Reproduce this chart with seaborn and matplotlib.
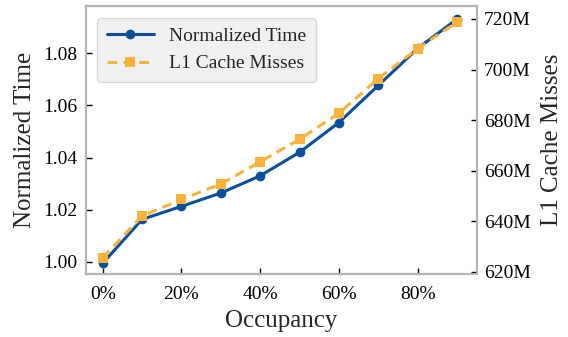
import matplotlib.pyplot as plt
import matplotlib.ticker as mticker
import pandas as pd
import seaborn as sns

OCCUPANCY = [0, 10, 20, 30, 40, 50, 60, 70, 80, 90]
NORM_TIME = [0.9995, 1.0163, 1.0213, 1.0264, 1.0330, 1.0420, 1.0534, 1.0676, 1.0818, 1.0930]
L1_MISSES_M = [625.5, 642.0, 648.6, 654.7, 663.5, 672.4, 682.7, 696.4, 708.3, 718.8]

BLUE = "#0a4f9c"
ORANGE = "#fbb23a"

sns.set_style("ticks")
plt.rcParams.update(
    {
        "font.family": ["Liberation Serif", "DejaVu Serif"],
        "font.size": 14,
        "axes.linewidth": 1.5,
        "axes.edgecolor": "#b5b5b5",
        "xtick.direction": "in",
        "ytick.direction": "in",
        "xtick.major.size": 4,
        "ytick.major.size": 4,
        "xtick.major.width": 1.0,
        "ytick.major.width": 1.0,
        "xtick.color": "black",
        "ytick.color": "black",
    }
)

df = pd.DataFrame({"occ": OCCUPANCY, "time": NORM_TIME, "miss": L1_MISSES_M})

fig = plt.figure(figsize=(5.68, 3.37), dpi=100)
ax = fig.add_axes([0.151, 0.187, 0.689, 0.795])
ax2 = ax.twinx()

sns.lineplot(data=df, x="occ", y="time", ax=ax, color=BLUE, lw=2.2,
             marker="o", markersize=7, markeredgewidth=0, label="Normalized Time",
             legend=False)
sns.lineplot(data=df, x="occ", y="miss", ax=ax2, color=ORANGE, lw=2.2,
             marker="s", markersize=7.5, markeredgewidth=0, dashes=False,
             label="L1 Cache Misses", legend=False)
ax2.lines[0].set_linestyle((0, (3.2, 2.0)))

ax.set_xlim(-4.3, 95.1)
ax.set_ylim(0.9954, 1.098)
ax2.set_ylim(619.1, 725.1)

ax.set_xticks([0, 20, 40, 60, 80])
ax.xaxis.set_major_formatter(mticker.FuncFormatter(lambda v, _: f"{v:.0f}%"))
ax.set_yticks([1.00, 1.02, 1.04, 1.06, 1.08])
ax.yaxis.set_major_formatter(mticker.FormatStrFormatter("%.2f"))
ax2.set_yticks([620, 640, 660, 680, 700, 720])
ax2.yaxis.set_major_formatter(mticker.FuncFormatter(lambda v, _: f"{v:.0f}M"))

ax.tick_params(axis="x", labelsize=14, pad=9)
ax.tick_params(axis="y", labelsize=14, pad=6)
ax2.tick_params(axis="y", labelsize=14, pad=5)

ax.set_xlabel("Occupancy", fontsize=18, labelpad=5)
ax.set_ylabel("Normalized Time", fontsize=18, labelpad=5)
ax2.set_ylabel("L1 Cache Misses", fontsize=18, labelpad=7)

handles = ax.get_lines()[:1] + ax2.get_lines()[:1]
leg = ax2.legend(handles, [h.get_label() for h in handles], loc="upper left",
                 fontsize=14, frameon=True, fancybox=True, framealpha=1,
                 facecolor="#f0f0f0", edgecolor="#d8d8d8", borderpad=0.5,
                 handlelength=2.4, borderaxespad=0.6, labelspacing=0.5)

fig.savefig("out.png", dpi=100)
